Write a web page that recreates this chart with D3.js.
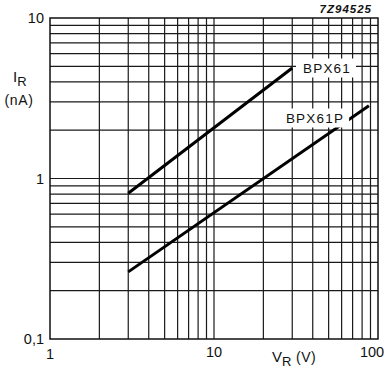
<!DOCTYPE html>
<html><head><meta charset="utf-8">
<script src="https://cdn.jsdelivr.net/npm/d3@7"></script>
<style>
html,body{margin:0;padding:0;background:#fff;}
svg{display:block;font-family:"Liberation Sans",Arial,Helvetica,sans-serif;}
</style></head>
<body>
<svg id="c" width="392" height="373"></svg>
<script>
// Data
const seriesNames = ["BPX61", "BPX61P"];
const vrBPX61 = [3, 30];
const irBPX61 = [0.81, 4.88];
const vrBPX61P = [3, 88];
const irBPX61P = [0.262, 2.84];
const xTickLabels = ["1", "10", "100"];
const xTickValues = [1, 10, 100];
const yTickLabels = ["0,1", "1", "10"];
const yTickValues = [0.1, 1, 10];
const figureCode = "7Z94525";

const svg = d3.select("#c");
const L = 50, R = 378, T = 18, B = 339;
const x = d3.scaleLog().domain([1, 100]).range([L, R]);
const y = d3.scaleLog().domain([0.1, 10]).range([B, T]);

// grid values
const xGrid = [], yGrid = [];
[1, 10].forEach(d => { for (let m = 1; m <= 9; m++) xGrid.push(d * m); });
[0.1, 1].forEach(d => { for (let m = 1; m <= 9; m++) yGrid.push(+(d * m).toFixed(3)); });

const g = svg.append("g");
g.selectAll("line.vx").data(xGrid.filter(v => v > 1)).join("line")
  .attr("x1", d => x(d)).attr("x2", d => x(d)).attr("y1", T).attr("y2", B)
  .attr("stroke", "#1a1a1a").attr("stroke-width", 1.2);
g.selectAll("line.hy").data(yGrid.filter(v => v > 0.1)).join("line")
  .attr("y1", d => y(d)).attr("y2", d => y(d)).attr("x1", L).attr("x2", R)
  .attr("stroke", "#1a1a1a").attr("stroke-width", 1.2);
g.append("rect").attr("x", L).attr("y", T).attr("width", R - L).attr("height", B - T)
  .attr("fill", "none").attr("stroke", "#111").attr("stroke-width", 1.5);

// data lines
const line = d3.line().x(d => x(d[0])).y(d => y(d[1]));
const s1 = vrBPX61.map((v, i) => [v, irBPX61[i]]);
const s2 = vrBPX61P.map((v, i) => [v, irBPX61P[i]]);
[s1, s2].forEach(s => {
  svg.append("path").datum(s).attr("d", line).attr("fill", "none")
    .attr("stroke", "#000").attr("stroke-width", 3);
});

// series labels with white background
function label(txt, cx, cy) {
  const t = svg.append("text").attr("x", cx).attr("y", cy).attr("text-anchor", "middle")
    .attr("dominant-baseline", "central").attr("font-size", 13.5).attr("letter-spacing", 1.2)
    .attr("fill", "#111").text(txt);
  const bb = t.node().getBBox();
  svg.insert("rect", function () { return t.node(); })
    .attr("x", bb.x - 7).attr("y", bb.y - 2).attr("width", bb.width + 12).attr("height", bb.height + 4)
    .attr("fill", "#fff");
}
label(seriesNames[0], 327, 68);
label(seriesNames[1], 315, 118);

// tick labels
const tf = 14.5;
xTickValues.forEach((v, i) => {
  svg.append("text").attr("x", x(v) + (i === 2 ? -6 : 0)).attr("y", i === 0 ? 359 : 357).attr("text-anchor", "middle")
    .attr("font-size", tf).attr("fill", "#111").text(xTickLabels[i]);
});
yTickValues.forEach((v, i) => {
  svg.append("text").attr("x", 44).attr("y", y(v) + 5).attr("text-anchor", "end")
    .attr("font-size", tf).attr("fill", "#111").text(yTickLabels[i]);
});

// axis titles
const yt = svg.append("text").attr("x", 13).attr("y", 82).attr("font-size", 15).attr("fill", "#111");
yt.append("tspan").text("I");
yt.append("tspan").attr("dy", 4).attr("font-size", 13).text("R");
svg.append("text").attr("x", 19).attr("y", 105).attr("text-anchor", "middle").attr("font-size", 14)
  .attr("letter-spacing", 0.6).attr("fill", "#111").text("(nA)");

const xt = svg.append("text").attr("x", 272).attr("y", 362).attr("font-size", 15).attr("fill", "#111");
xt.append("tspan").text("V");
xt.append("tspan").attr("dy", 4).attr("font-size", 13).text("R");
xt.append("tspan").attr("dy", -4).attr("font-size", 14).attr("letter-spacing", 0.6).text(" (V)");

svg.append("text").attr("x", 372).attr("y", 13).attr("text-anchor", "end").attr("font-size", 11.5)
  .attr("font-style", "italic").attr("font-weight", "bold").attr("letter-spacing", 1)
  .attr("fill", "#111").text(figureCode);
</script>
</body></html>
